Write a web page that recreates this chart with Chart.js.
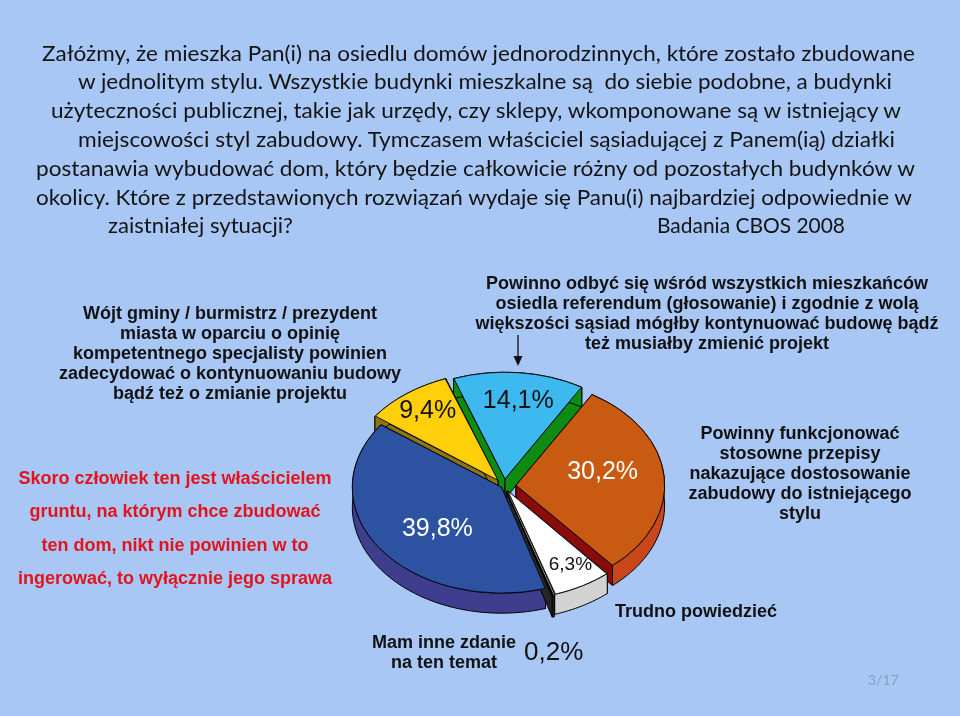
<!DOCTYPE html>
<html lang="pl">
<head>
  <meta charset="UTF-8" />
  <title>Badania CBOS 2008</title>
  <script src="https://cdn.jsdelivr.net/npm/chart.js"></script>
  <style>
    html, body { margin: 0; padding: 0; }
    body { width: 960px; height: 716px; background: #A9C7F5; position: relative; overflow: hidden;
           font-family: 'Liberation Sans', Arial, sans-serif; }
    #wykres { position: absolute; left: 0; top: 0; }
    .linia { position: absolute; white-space: pre; font-family: Lato, 'Open Sans', sans-serif;
             font-size: 22px; line-height: 28px; color: #141414; transform-origin: 0 50%; }
    .opis { position: absolute; text-align: center; font-weight: bold; font-size: 18px; line-height: 20px;
            color: #111; white-space: pre; transform: translateX(-50%); }
    .proc { position: absolute; font-size: 26px; line-height: 28px; color: #111; }
    #strona { position: absolute; left: 868px; top: 671px; font-family: Lato, sans-serif; font-size: 14px; color: #8A9EC4; }
  </style>
</head>
<body>
  <canvas id="wykres" width="960" height="716"></canvas>
  <div id="teksty"></div>
  <svg style="position:absolute;left:0;top:0" width="960" height="716">
    <line x1="518" y1="335" x2="518" y2="358" stroke="#111" stroke-width="1.3" />
    <polygon points="513.5,356 522.5,356 518,366" fill="#111" />
  </svg>
  <div class="proc" style="left:524px;top:637px">0,2%</div>
  <div id="strona">3/17</div>

  <script>
    // dane: kolejność plasterków zgodnie z ruchem wskazówek zegara
    const kategorie = [
      'Powinno odbyć się wśród wszystkich mieszkańców\nosiedla referendum (głosowanie) i zgodnie z wolą\nwiększości sąsiad mógłby kontynuować budowę bądź\nteż musiałby zmienić projekt',
      'Powinny funkcjonować\nstosowne przepisy\nnakazujące dostosowanie\nzabudowy do istniejącego\nstylu',
      'Trudno powiedzieć',
      'Mam inne zdanie\nna ten temat',
      'Skoro człowiek ten jest właścicielem\ngruntu, na którym chce zbudować\nten dom, nikt nie powinien w to\ningerować, to wyłącznie jego sprawa',
      'Wójt gminy / burmistrz / prezydent\nmiasta w oparciu o opinię\nkompetentnego specjalisty powinien\nzadecydować o kontynuowaniu budowy\nbądź też o zmianie projektu'
    ];
    const udzialy = [14.1, 30.2, 6.3, 0.2, 39.8, 9.4];
    const etykiety = ['14,1%', '30,2%', '6,3%', '0,2%', '39,8%', '9,4%'];

    // wygląd
    const kolorGora = ['#3DB9EF', '#C85A12', '#FFFFFF', '#3A3A3A', '#2C52A1', '#FFCF0A'];
    const kolorCiecie = ['#0E8C12', '#8B0A0A', '#BDBDBD', '#262626', '#3A3A88', '#8C7414'];
    const kolorBok = ['#0E8C12', '#C8481C', '#D2D2D2', '#333333', '#3F3D8D', '#8C7414'];
    const wysuniecie = [10, 12, 8, 8, 3, 10]; // px
    const pochylenie = 0.71, glebokosc = 20;
    // [część kąta plasterka, część promienia], null = podpis poza wykresem
    const miejsceEtykiety = [[0.53, 0.75], [0.43, 0.6], [0.42, 0.82], null, [0.45, 0.59], [0.53, 0.81]];
    const kolorEtykiety = ['#111', '#fff', '#111', '#111', '#fff', '#111'];
    const rozmiarEtykiety = [25, 25, 19, 25, 25, 25];

    // tekst pytania
    const pytanie = [
      ['Załóżmy, że mieszka Pan(i) na osiedlu domów jednorodzinnych, które zostało zbudowane', 42, 915, 53],
      ['w jednolitym stylu. Wszystkie budynki mieszkalne są  do siebie podobne, a budynki', 78, 892, 81],
      ['użyteczności publicznej, takie jak urzędy, czy sklepy, wkomponowane są w istniejący w', 51, 901, 110],
      ['miejscowości styl zabudowy. Tymczasem właściciel sąsiadującej z Panem(ią) działki', 78, 895, 139],
      ['postanawia wybudować dom, który będzie całkowicie różny od pozostałych budynków w', 36, 915, 168],
      ['okolicy. Które z przedstawionych rozwiązań wydaje się Panu(i) najbardziej odpowiednie w', 36, 912, 197],
      ['zaistniałej sytuacji?', 108, 293, 225],
      ['Badania CBOS 2008', 657, 845, 225]
    ];
    // położenie podpisów kategorii: środek x, góra, wysokość linii, kolor
    const podpisy = [
      [707, 273, 20, '#111'], [800, 423, 20, '#111'], [696, 601, 20, '#111'],
      [444, 633, 19.5, '#111'], [175, 462, 33.3, '#E3131B'], [230, 303, 20, '#111']
    ];

    const teksty = document.getElementById('teksty');
    pytanie.forEach(([t, x0, x1, yc]) => {
      const d = document.createElement('div');
      d.className = 'linia';
      d.textContent = t;
      d.style.left = x0 + 'px';
      d.style.top = (yc - 14) + 'px';
      teksty.appendChild(d);
      const w = d.getBoundingClientRect().width;
      d.style.transform = `scaleX(${(x1 - x0) / w})`;
    });
    kategorie.forEach((t, i) => {
      const [x, y, lh, kol] = podpisy[i];
      const d = document.createElement('div');
      d.className = 'opis';
      d.textContent = t;
      d.style.left = x + 'px';
      d.style.top = y + 'px';
      d.style.lineHeight = lh + 'px';
      d.style.color = kol;
      teksty.appendChild(d);
    });

    // geometria plasterka tak jak rysuje go ArcElement
    function geom(a) {
      const pol = (a.startAngle + a.endAngle) / 2;
      const off = (a.options.offset || 0) / 4;
      const kat = a.endAngle - a.startAngle;
      return {
        x: a.x + Math.cos(pol) * off,
        y: a.y + Math.sin(pol) * off,
        r: a.outerRadius + off * (1 - Math.sin(Math.min(Math.PI, kat))),
        pol
      };
    }
    // punkt na ekranie po przechyleniu
    const ekran = (x, y, cy, d) => [x, cy + (y - cy) * pochylenie + d];

    const pie3d = {
      id: 'pie3d',
      beforeDatasetsDraw(chart) {
        const ctx = chart.ctx;
        const luki = chart.getDatasetMeta(0).data;
        const cy = luki[0].y;
        const kolejnosc = luki.map((a, i) => i)
          .sort((i, j) => Math.sin(geom(luki[i]).pol) - Math.sin(geom(luki[j]).pol));

        ctx.save();
        ctx.lineWidth = 1;
        ctx.strokeStyle = '#000';
        ctx.lineJoin = 'round';
        kolejnosc.forEach(i => {
          const a = luki[i];
          const g = geom(a);
          // ściany cięcia
          [a.startAngle, a.endAngle].forEach(t => {
            const ox = g.x + Math.cos(t) * g.r, oy = g.y + Math.sin(t) * g.r;
            ctx.beginPath();
            ctx.moveTo(...ekran(g.x, g.y, cy, 0));
            ctx.lineTo(...ekran(ox, oy, cy, 0));
            ctx.lineTo(...ekran(ox, oy, cy, glebokosc));
            ctx.lineTo(...ekran(g.x, g.y, cy, glebokosc));
            ctx.closePath();
            ctx.fillStyle = kolorCiecie[i];
            ctx.fill();
            ctx.stroke();
          });
          // bok zewnętrzny
          const n = Math.max(2, Math.ceil((a.endAngle - a.startAngle) * 40));
          ctx.beginPath();
          for (let k = 0; k <= n; k++) {
            const t = a.startAngle + (a.endAngle - a.startAngle) * k / n;
            const p = ekran(g.x + Math.cos(t) * g.r, g.y + Math.sin(t) * g.r, cy, 0);
            k === 0 ? ctx.moveTo(...p) : ctx.lineTo(...p);
          }
          for (let k = n; k >= 0; k--) {
            const t = a.startAngle + (a.endAngle - a.startAngle) * k / n;
            ctx.lineTo(...ekran(g.x + Math.cos(t) * g.r, g.y + Math.sin(t) * g.r, cy, glebokosc));
          }
          ctx.closePath();
          ctx.fillStyle = kolorBok[i];
          ctx.fill();
          ctx.stroke();
        });
        ctx.restore();

        // górne powierzchnie rysuje Chart.js w przechylonym układzie
        ctx.save();
        ctx.translate(0, cy);
        ctx.scale(1, pochylenie);
        ctx.translate(0, -cy);
      },
      afterDatasetsDraw(chart) {
        const ctx = chart.ctx;
        ctx.restore();
        const luki = chart.getDatasetMeta(0).data;
        const cy = luki[0].y;
        ctx.save();
        ctx.textAlign = 'center';
        ctx.textBaseline = 'middle';
        luki.forEach((a, i) => {
          const m = miejsceEtykiety[i];
          if (!m) return;
          const g = geom(a);
          const t = a.startAngle + (a.endAngle - a.startAngle) * m[0];
          const [x, y] = ekran(g.x + Math.cos(t) * a.outerRadius * m[1], g.y + Math.sin(t) * a.outerRadius * m[1], cy, 0);
          ctx.font = `${rozmiarEtykiety[i]}px 'Liberation Sans', Arial, sans-serif`;
          ctx.fillStyle = kolorEtykiety[i];
          ctx.fillText(etykiety[i], x, y);
        });
        ctx.restore();
      }
    };

    new Chart(document.getElementById('wykres'), {
      type: 'pie',
      data: {
        labels: kategorie,
        datasets: [{
          data: udzialy,
          backgroundColor: kolorGora,
          borderColor: '#000',
          borderWidth: 1,
          offset: wysuniecie.map(v => v * 4),
          clip: false
        }]
      },
      options: {
        responsive: false,
        animation: false,
        events: [],
        rotation: -20,
        radius: 148,
        layout: { padding: { left: 48, top: 256, right: 0, bottom: 0 } },
        plugins: { legend: { display: false }, tooltip: { enabled: false } }
      },
      plugins: [pie3d]
    });
  </script>
</body>
</html>
